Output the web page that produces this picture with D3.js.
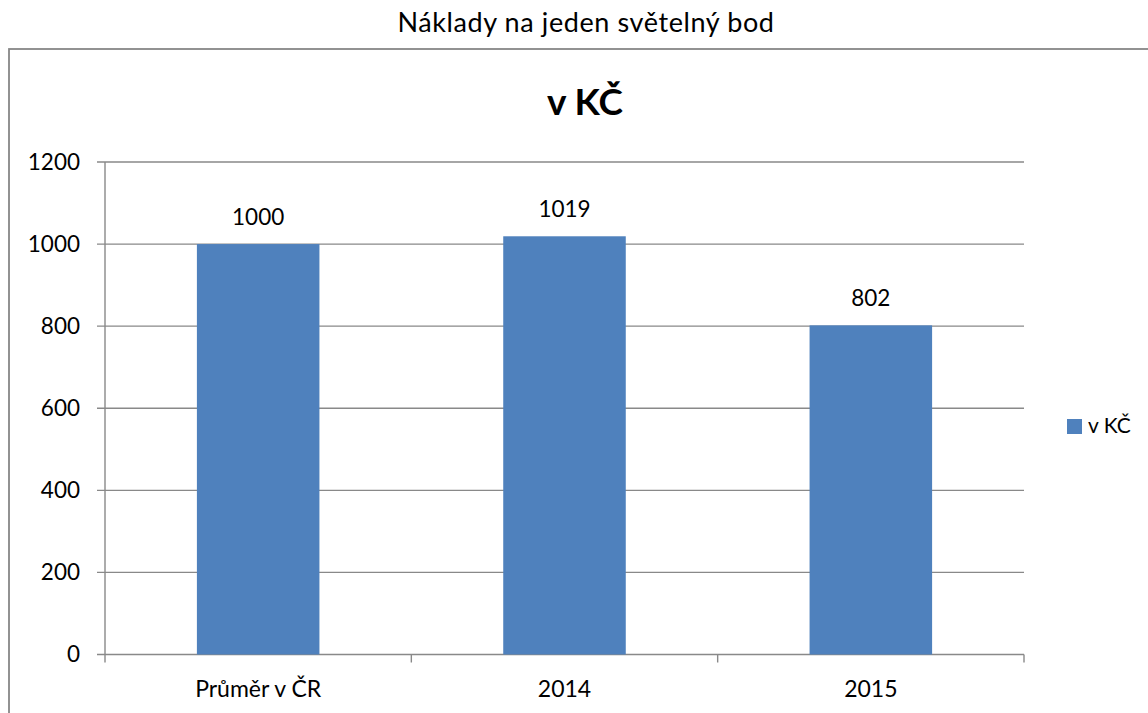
<!DOCTYPE html>
<html>
<head>
<meta charset="utf-8">
<script src="https://cdn.jsdelivr.net/npm/d3@7"></script>
<style>
  body { margin: 0; background: #fff; }
  text { font-family: Lato, "Open Sans", sans-serif; fill: #000; }
</style>
</head>
<body>
<div id="chart"></div>
<script>
(function() {
  const categories = ["Průměr v ČR", "2014", "2015"];
  const values = [1000, 1019, 802];
  const yTicks = [0, 200, 400, 600, 800, 1000, 1200];
  const seriesName = "v KČ";

  const width = 1148, height = 713;
  const plot = { left: 105, right: 1024, top: 162, bottom: 654.5 };

  const svg = d3.select("#chart")
    .append("svg")
    .attr("width", width)
    .attr("height", height);

  // outer title above the frame
  svg.append("text")
    .attr("x", 586)
    .attr("y", 32)
    .attr("text-anchor", "middle")
    .attr("font-size", "27px")
    .attr("letter-spacing", "0.6px")
    .text("Náklady na jeden světelný bod");

  // chart frame (cut off at right and bottom)
  svg.append("rect")
    .attr("x", 9)
    .attr("y", 49)
    .attr("width", width + 20)
    .attr("height", height + 20)
    .attr("fill", "none")
    .attr("stroke", "#878787")
    .attr("stroke-width", 1.8);

  svg.append("text")
    .attr("x", 585)
    .attr("y", 115)
    .attr("text-anchor", "middle")
    .attr("font-size", "37px")
    .attr("font-weight", "bold")
    .text(seriesName);

  const x = d3.scaleBand()
    .domain(categories)
    .range([plot.left, plot.right])
    .paddingInner(0.6)
    .paddingOuter(0.3);

  const y = d3.scaleLinear()
    .domain([0, 1200])
    .range([plot.bottom, plot.top]);

  // y tick labels
  const yAxis = svg.append("g")
    .attr("transform", `translate(${plot.left},0)`)
    .call(d3.axisLeft(y)
      .tickValues(yTicks)
      .tickFormat(d3.format("d"))
      .tickSize(8)
      .tickPadding(17));
  yAxis.select(".domain").remove();
  yAxis.selectAll(".tick line").remove();
  yAxis.selectAll(".tick text")
    .attr("font-size", "22.5px")
    .attr("font-family", "Lato, 'Open Sans', sans-serif")
    .attr("fill", "#000");

  // gridlines
  svg.append("g")
    .selectAll("line")
    .data(yTicks)
    .join("line")
    .attr("x1", plot.left - 8)
    .attr("x2", plot.right)
    .attr("y1", d => y(d))
    .attr("y2", d => y(d))
    .attr("stroke", "#898989")
    .attr("stroke-width", 1.4);

  // y axis line
  svg.append("line")
    .attr("x1", plot.left).attr("x2", plot.left)
    .attr("y1", plot.top).attr("y2", plot.bottom + 8)
    .attr("stroke", "#898989")
    .attr("stroke-width", 1.4);

  // category boundary ticks
  const step = x.step();
  const bounds = d3.range(categories.length + 1).map(i => plot.left + i * step);
  svg.append("g")
    .selectAll("line")
    .data(bounds.slice(1))
    .join("line")
    .attr("x1", d => d).attr("x2", d => d)
    .attr("y1", plot.bottom).attr("y2", plot.bottom + 8)
    .attr("stroke", "#898989")
    .attr("stroke-width", 1.4);

  // bars
  svg.append("g")
    .selectAll("rect")
    .data(values)
    .join("rect")
    .attr("x", (d, i) => x(categories[i]))
    .attr("y", d => y(d))
    .attr("width", x.bandwidth())
    .attr("height", d => y(0) - y(d))
    .attr("fill", "#4f81bd");

  // value labels
  svg.append("g")
    .selectAll("text")
    .data(values)
    .join("text")
    .attr("x", (d, i) => x(categories[i]) + x.bandwidth() / 2)
    .attr("y", d => y(d) - 19)
    .attr("text-anchor", "middle")
    .attr("font-size", "22.5px")
    .text(d => d);

  // category labels
  svg.append("g")
    .selectAll("text")
    .data(categories)
    .join("text")
    .attr("x", d => x(d) + x.bandwidth() / 2)
    .attr("y", 697)
    .attr("text-anchor", "middle")
    .attr("font-size", "23px")
    .text(d => d);

  // legend
  svg.append("rect")
    .attr("x", 1067)
    .attr("y", 419)
    .attr("width", 15)
    .attr("height", 15)
    .attr("fill", "#4f81bd");
  svg.append("text")
    .attr("x", 1088)
    .attr("y", 433)
    .attr("font-size", "21px")
    .text(seriesName);
})();
</script>
</body>
</html>
